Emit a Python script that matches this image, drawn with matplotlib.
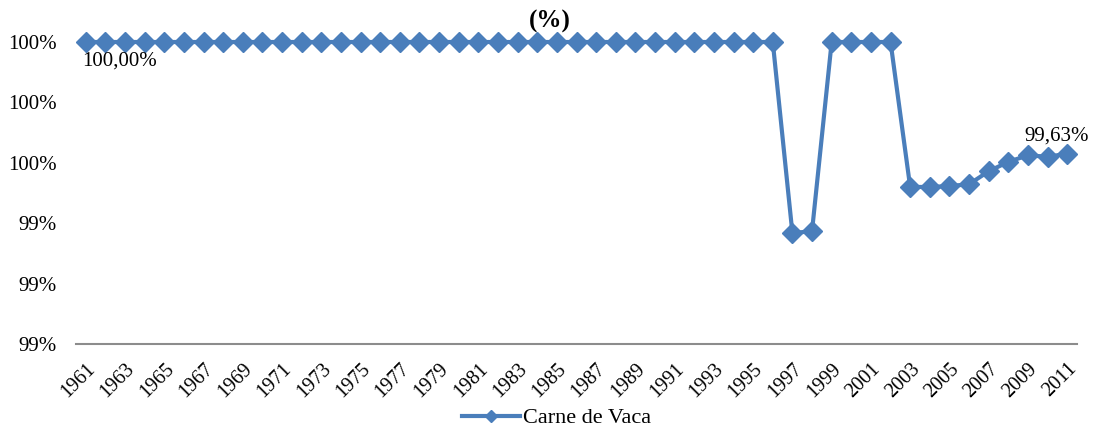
import matplotlib
import numpy as np
import matplotlib.pyplot as plt
from matplotlib.lines import Line2D
from matplotlib.ticker import FuncFormatter, MultipleLocator

matplotlib.use('Agg')
plt.rcParams['font.family'] = ['Liberation Serif', 'DejaVu Serif']

years = list(range(1961, 2012))
# share (%)
vals_1961_1996 = [100.0] * 36
vals_1997_2011 = [99.367, 99.374, 100.0, 100.0, 100.0, 100.0,
                  99.52, 99.52, 99.523, 99.529, 99.572, 99.603,
                  99.625, 99.62, 99.63]
carne_vaca = vals_1961_1996 + vals_1997_2011

series_name = "Carne de Vaca"
title_text = "(%)"
first_label = "100,00%"
last_label = "99,63%"

c_line = '#4A7EBB'
fs = 15

fig = plt.figure(figsize=(10.93, 4.28), dpi=100)
ax = fig.add_axes([76 / 1093, 1 - 344 / 428, 1001 / 1093, 302 / 428])

x = np.arange(len(years))
ax.plot(x, carne_vaca, color=c_line, linewidth=3, marker='D',
        markersize=10, clip_on=False, zorder=3)

ax.set_xlim(-0.5, len(years) - 0.5)
ax.set_ylim(99.0, 100.0)
ax.yaxis.set_major_locator(MultipleLocator(0.2))
ax.yaxis.set_major_formatter(FuncFormatter(lambda v, p: f"{v:.0f}%"))

ax.set_xticks(x[::2])
ax.set_xticklabels([str(y) for y in years[::2]], rotation=45,
                   ha='right', rotation_mode='anchor')
ax.tick_params(axis='both', length=0, colors='black')
ax.tick_params(axis='x', pad=11, labelsize=14.5)
ax.tick_params(axis='y', pad=14, labelsize=fs)

for s in ['top', 'right', 'left']:
    ax.spines[s].set_visible(False)
ax.spines['bottom'].set_color('#8C8C8C')
ax.spines['bottom'].set_linewidth(1.5)

# data labels
ax.annotate(first_label, (x[0], carne_vaca[0]), xytext=(-4, -10),
            textcoords='offset pixels', ha='left', va='top', fontsize=fs)
ax.annotate(last_label, (x[-1], carne_vaca[-1]), xytext=(-11, 8),
            textcoords='offset pixels', ha='center', va='bottom', fontsize=fs)

fig.text(550 / 1093, 1 - 21 / 428, title_text, ha='center', va='center',
         fontsize=18, fontweight='bold')

handle = Line2D([], [], color=c_line, linewidth=3, marker='D', markersize=6)
fig.legend([handle], [series_name], loc='center',
           bbox_to_anchor=(557 / 1093, 1 - 418 / 428),
           frameon=False, fontsize=16, handlelength=2.6, handletextpad=0.15)

fig.savefig('out.png', dpi=100)
